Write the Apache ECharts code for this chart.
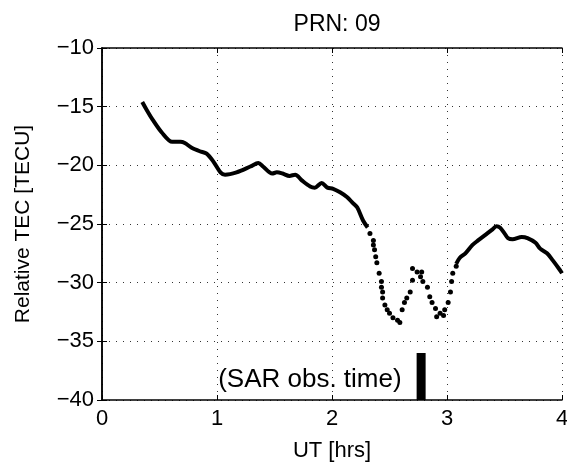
<!DOCTYPE html>
<html>
<head>
<meta charset="utf-8">
<script src="https://cdn.jsdelivr.net/npm/echarts@6/dist/echarts.min.js"></script>
<style>html,body{margin:0;padding:0;background:#fff}#c{width:567px;height:465px}</style>
</head>
<body>
<div id="c"></div>
<script>
// Solid (dense) portions of the TEC curve: [UT hrs, TEC]
const tecEarlyX = [0.35,0.39,0.44,0.52,0.61,0.68,0.72,0.78,0.85,0.91,0.97,1.03,1.07,1.17,1.29,1.36,1.40,1.48,1.52,1.57,1.63,1.68,1.74,1.81,1.85,1.91,1.96,2.01,2.07,2.13,2.18,2.22,2.27,2.31];
const tecEarlyY = [-14.6,-15.3,-16.1,-17.2,-18.0,-18.0,-18.1,-18.5,-18.8,-19.0,-19.7,-20.6,-20.8,-20.6,-20.1,-19.8,-20.1,-20.7,-20.6,-20.7,-20.9,-20.8,-21.3,-21.8,-21.9,-21.5,-21.9,-22.0,-22.3,-22.7,-23.2,-23.6,-24.7,-25.3];
// Sparse (dotted) portion
const tecDotX = [2.33,2.36,2.36,2.37,2.38,2.39,2.41,2.43,2.43,2.44,2.44,2.46,2.48,2.50,2.53,2.57,2.59,2.61,2.63,2.65,2.68,2.70,2.70,2.74,2.77,2.78,2.79,2.83,2.85,2.87,2.90,2.91,2.94,2.97,2.98,3.01,3.03,3.04,3.05,3.08];
const tecDotY = [-25.8,-26.4,-26.8,-27.2,-27.8,-28.3,-29.2,-29.9,-30.4,-30.8,-31.3,-31.9,-32.3,-32.6,-33.0,-33.2,-33.4,-32.3,-31.7,-31.3,-30.8,-29.8,-28.8,-29.1,-29.5,-29.1,-29.9,-30.4,-31.2,-31.7,-32.2,-32.9,-32.6,-32.8,-32.3,-31.7,-30.8,-29.9,-29.2,-28.6];
const tecLateX = [3.08,3.11,3.16,3.22,3.27,3.35,3.39,3.43,3.46,3.50,3.53,3.57,3.65,3.70,3.77,3.81,3.87,3.92,3.98,4.00];
const tecLateY = [-28.4,-27.9,-27.5,-26.8,-26.4,-25.8,-25.5,-25.2,-25.3,-25.8,-26.2,-26.3,-26.1,-26.2,-26.6,-27.1,-27.5,-28.1,-28.9,-29.2];
// SAR observation marker
const sarTime = 2.775;
const sarTop = -36;
const sarLabel = '(SAR obs. time)';
const sarLabelPos = [2.61, -38.3];
const xTicks = [0,1,2,3,4];
const yTicks = [-40,-35,-30,-25,-20,-15,-10];

const zip = (a,b) => a.map((v,i)=>[v,b[i]]);
const font = 'Liberation Sans, Arial, Helvetica, sans-serif';
const minus = v => String(v).replace('-', '\u2212');

const chart = echarts.init(document.getElementById('c'), null, {renderer:'canvas'});
const axisCommon = {
  axisLine:{show:true, lineStyle:{color:'#000', width:1.5}},
  axisTick:{show:true, inside:true, length:5, lineStyle:{color:'#000', width:1}},
};
chart.setOption({
  animation:false,
  backgroundColor:'#fff',
  title:{text:'PRN: 09', left:332, top:8, textAlign:'center',
    textStyle:{fontFamily:font, fontSize:23, fontWeight:'normal', color:'#000'}},
  grid:{left:102, right:5, top:48, bottom:65, outerBoundsMode:'none', containLabel:false},
  xAxis:[
    Object.assign({type:'value', min:xTicks[0], max:xTicks[xTicks.length-1], interval:1, position:'bottom',
      name:'UT [hrs]', nameLocation:'middle', nameGap:40,
      nameTextStyle:{fontFamily:font, fontSize:22, color:'#000'},
      axisLabel:{fontFamily:font, fontSize:22, color:'#000', margin:8},
      splitLine:{show:true, lineStyle:{color:'#333', type:[1,6], width:1}}}, axisCommon),
    Object.assign({type:'value', min:0, max:4, interval:1, position:'top',
      axisLabel:{show:false}, splitLine:{show:false}}, axisCommon)
  ],
  yAxis:[
    Object.assign({type:'value', min:yTicks[0], max:yTicks[yTicks.length-1], interval:5, position:'left',
      name:'Relative TEC [TECU]', nameLocation:'middle', nameGap:68,
      nameTextStyle:{fontFamily:font, fontSize:21, color:'#000'},
      axisLabel:{fontFamily:font, fontSize:22, color:'#000', margin:8, formatter:minus},
      splitLine:{show:true, lineStyle:{color:'#333', type:[1,6], width:1}}}, axisCommon),
    Object.assign({type:'value', min:-40, max:-10, interval:5, position:'right',
      axisLabel:{show:false}, splitLine:{show:false}}, axisCommon)
  ],
  series:[
    {type:'line', data:zip(tecEarlyX,tecEarlyY), showSymbol:false, smooth:0.3,
      lineStyle:{color:'#000', width:4}, z:5},
    {type:'line', data:zip(tecLateX,tecLateY), showSymbol:false, smooth:0.3,
      lineStyle:{color:'#000', width:4}, z:5},
    {type:'scatter', data:zip(tecDotX,tecDotY), symbolSize:5,
      itemStyle:{color:'#000', opacity:1}, z:5},
    {type:'line', data:[[sarTime,sarTop],[sarTime,yTicks[0]]], showSymbol:false,
      lineStyle:{color:'#000', width:9, cap:'butt'}, z:6},
    {type:'scatter', data:[sarLabelPos], symbolSize:1,
      itemStyle:{color:'#fff', opacity:1},
      label:{show:true, position:'left', distance:0, formatter:sarLabel,
        fontFamily:font, fontSize:26, color:'#000', opacity:1}}
  ]
});
</script>
</body>
</html>
